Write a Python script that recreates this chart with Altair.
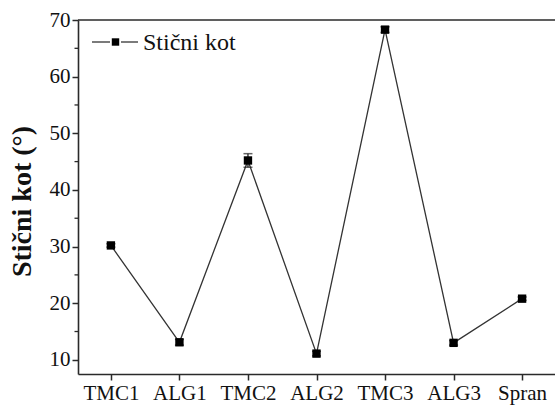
import altair as alt
import pandas as pd

categories = ["TMC1", "ALG1", "TMC2", "ALG2", "TMC3", "ALG3", "Spran"]
values = [30.2, 13.1, 45.2, 11.1, 68.3, 13.0, 20.8]
errors = [0.3, 0.5, 1.2, 0.4, 0.5, 0.4, 0.3]
y_major = [10, 20, 30, 40, 50, 60, 70]
y_minor = [15, 25, 35, 45, 55, 65]
legend_label = ["Stični kot"]

W, H = 477, 354
FONT = "Liberation Serif"
AX = "#2a2a2a"

df = pd.DataFrame({"cat": categories, "v": values, "e": errors})
df["lo"] = df["v"] - df["e"]
df["hi"] = df["v"] + df["e"]

xs = alt.Scale(type="point", domain=categories, padding=0.48)
ys = alt.Scale(domain=[7.5, 70], nice=False, zero=False)

x_enc = alt.X("cat:N", scale=xs, sort=categories,
              axis=alt.Axis(title=None, labelAngle=0, tickSize=6, labelPadding=2,
                            labelFontSize=21, labelFont=FONT, labelColor="#111",
                            domainColor=AX, domainWidth=1.6, tickColor=AX, tickWidth=1.5))
y_axis = alt.Axis(title="Stični kot (°)", values=y_major, tickSize=6, labelPadding=2,
                  labelFontSize=21, labelFont=FONT, labelColor="#111",
                  titleFont=FONT, titleFontSize=28, titleFontWeight="bold", titleColor="#111",
                  titleAngle=-90, titleX=-56, titleY=181, titleAlign="center",
                  titleBaseline="middle",
                  domainColor=AX, domainWidth=1.6, tickColor=AX, tickWidth=1.5, grid=False)

base = alt.Chart(df)

line = base.mark_line(color="#333333", strokeWidth=1.3).encode(
    x=x_enc, y=alt.Y("v:Q", scale=ys, axis=y_axis))
err = base.mark_rule(color="#222", strokeWidth=1.3).encode(
    x=alt.X("cat:N", scale=xs, sort=categories), y=alt.Y("lo:Q", scale=ys), y2="hi:Q")
cap_hi = base.mark_tick(color="#222", thickness=1.5, size=9, orient="horizontal").encode(
    x=alt.X("cat:N", scale=xs, sort=categories), y=alt.Y("hi:Q", scale=ys))
cap_lo = base.mark_tick(color="#222", thickness=1.5, size=9, orient="horizontal").encode(
    x=alt.X("cat:N", scale=xs, sort=categories), y=alt.Y("lo:Q", scale=ys))
pts = base.mark_point(shape="square", filled=True, color="#000", size=70, opacity=1).encode(
    x=alt.X("cat:N", scale=xs, sort=categories), y=alt.Y("v:Q", scale=ys))

minor = alt.Chart(pd.DataFrame({"m": y_minor})).mark_rule(color=AX, strokeWidth=1.3).encode(
    y=alt.Y("m:Q", scale=ys), x=alt.value(-3.5), x2=alt.value(0))

top = alt.Chart(pd.DataFrame({"a": [0]})).mark_rule(color=AX, strokeWidth=1.6).encode(
    x=alt.value(0), x2=alt.value(W + 5), y=alt.value(0))

leg_df = pd.DataFrame({"label": legend_label})
leg_l1 = alt.Chart(leg_df).mark_rule(color="#333", strokeWidth=1.3).encode(
    x=alt.value(14), x2=alt.value(32), y=alt.value(22))
leg_l2 = alt.Chart(leg_df).mark_rule(color="#333", strokeWidth=1.3).encode(
    x=alt.value(43), x2=alt.value(60), y=alt.value(22))
leg_pt = alt.Chart(leg_df).mark_point(shape="square", filled=True, color="#000", size=55, opacity=1).encode(
    x=alt.value(37.5), y=alt.value(22))
leg_txt = alt.Chart(leg_df).mark_text(align="left", baseline="middle", font=FONT, fontSize=24,
                                      color="#111").encode(
    x=alt.value(65), y=alt.value(23), text="label:N")

chart = alt.layer(line, err, cap_hi, cap_lo, pts, minor, top, leg_l1, leg_l2, leg_pt, leg_txt).properties(
    width=W, height=H,
    autosize=alt.AutoSizeParams(type="none"),
    padding={"left": 78, "top": 20, "right": 0, "bottom": 33},
    background="white",
).configure_view(stroke=None)

chart.save("out.html", embed_options={"renderer": "svg", "actions": False})
